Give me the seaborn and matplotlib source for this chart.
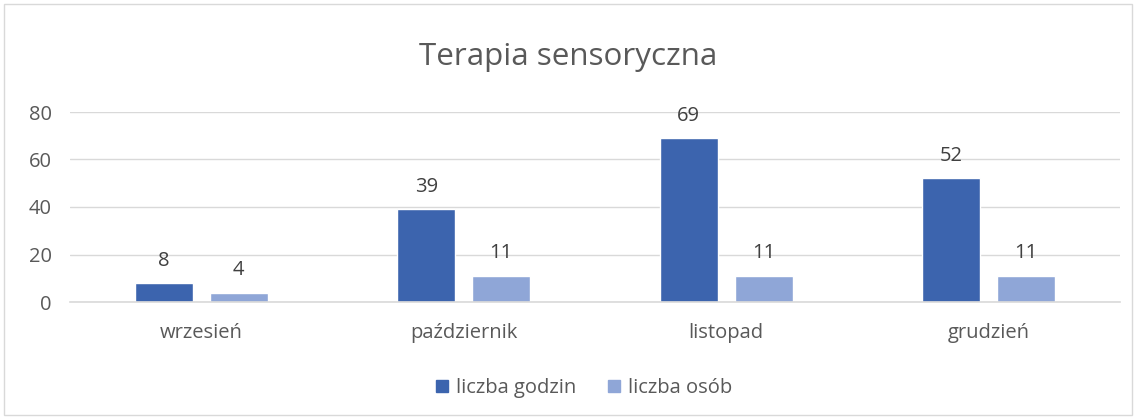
import matplotlib
matplotlib.use("Agg")
import matplotlib.pyplot as plt
import seaborn as sns
import pandas as pd
from matplotlib.patches import Rectangle

months = ["wrzesień", "październik", "listopad", "grudzień"]
series_names = ["liczba godzin", "liczba osób"]
godziny = [8, 39, 69, 52]
osoby = [4, 11, 11, 11]
yticks = [0, 20, 40, 60, 80]

df = pd.DataFrame({
    "month": months * 2,
    "series": [series_names[0]] * 4 + [series_names[1]] * 4,
    "value": godziny + osoby,
})

sns.set_theme(style="white")
plt.rcParams["font.family"] = ["Open Sans", "DejaVu Sans"]

fig = plt.figure(figsize=(11.36, 4.19), dpi=100)
ax = fig.add_axes([70 / 1136, 1 - 302 / 419, 1050 / 1136, 190 / 419])

colors = ["#3C64AE", "#8FA6D7"]
sns.barplot(data=df, x="month", y="value", hue="series", order=months,
            hue_order=series_names, palette=colors, width=0.571, gap=0.227,
            saturation=1, ax=ax, legend=False)

for cont in ax.containers:
    ax.bar_label(cont, padding=9, fontsize=14.5, color="#404040")

ax.set_ylim(0, 80)
ax.set_xlim(-0.5, 3.5)
ax.set_yticks(yticks)
ax.yaxis.grid(True, color="#D9D9D9", linewidth=1)
ax.set_axisbelow(True)
for s in ["top", "right", "left"]:
    ax.spines[s].set_visible(False)
ax.spines["bottom"].set_color("#D9D9D9")
ax.spines["bottom"].set_linewidth(1.2)
ax.tick_params(axis="both", length=0, labelsize=14.5, colors="#595959")
ax.tick_params(axis="x", pad=15)
ax.tick_params(axis="y", pad=13)
ax.set_xlabel("")
ax.set_ylabel("")

fig.text(0.5, 1 - 57 / 419, "Terapia sensoryczna", ha="center", va="center",
         fontsize=22.6, color="#595959")

handles = [Rectangle((0, 0), 1, 1, color=c) for c in colors]
fig.legend(handles, series_names, loc="center", bbox_to_anchor=(584 / 1136, 1 - 388 / 419),
           ncol=2, frameon=False, fontsize=14.5, labelcolor="#595959",
           handlelength=0.6, handleheight=0.6, handletextpad=0.4, columnspacing=1.6)

fig.patches.append(Rectangle((4 / 1136, 4 / 419), 1 - 8 / 1136, 1 - 8 / 419,
                             transform=fig.transFigure, fill=False,
                             edgecolor="#D9D9D9", linewidth=1))

fig.savefig("out.png", dpi=100)
